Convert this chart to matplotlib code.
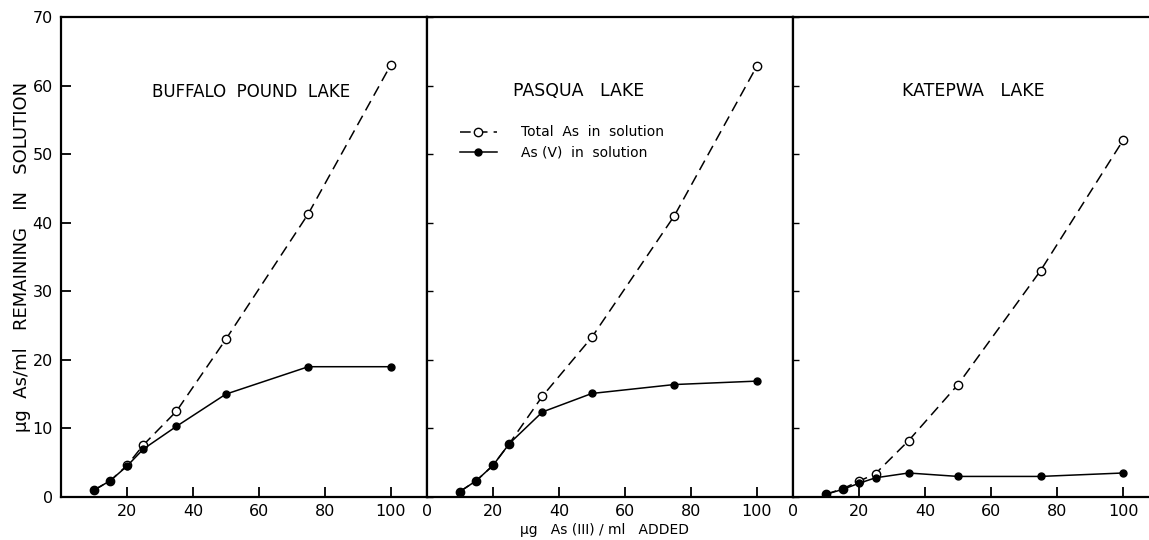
import matplotlib
matplotlib.use("Agg")
import matplotlib.pyplot as plt
from matplotlib.legend_handler import HandlerLine2D

# ---- data ----
added = [10, 15, 20, 25, 35, 50, 75, 100]
lakes = ["BUFFALO  POUND  LAKE", "PASQUA   LAKE", "KATEPWA   LAKE"]
total_buffalo = [1.0, 2.4, 4.6, 7.6, 12.5, 23.0, 41.3, 63.0]
as5_buffalo = [1.0, 2.4, 4.5, 7.0, 10.3, 15.0, 19.0, 19.0]
total_pasqua = [0.8, 2.4, 4.6, 7.8, 14.7, 23.3, 41.0, 62.8]
as5_pasqua = [0.8, 2.4, 4.6, 7.8, 12.4, 15.1, 16.4, 16.9]
total_katepwa = [0.4, 1.2, 2.3, 3.4, 8.2, 16.4, 33.0, 52.0]
as5_katepwa = [0.4, 1.1, 2.0, 2.8, 3.5, 3.0, 3.0, 3.5]
totals = [total_buffalo, total_pasqua, total_katepwa]
as5s = [as5_buffalo, as5_pasqua, as5_katepwa]
xticks = [20, 40, 60, 80, 100]
yticks = [0, 10, 20, 30, 40, 50, 60, 70]

plt.rcParams['font.family'] = ['DejaVu Sans']

W, H = 1149, 540
fig = plt.figure(figsize=(W / 100, H / 100), dpi=100)

bottom = 43 / H
height = 480 / H
panels = [(61, 366, 111), (427, 366, 111), (793, 356, 356 / 3.3)]
title_pos = [(0.52, 12.0), (0.415, 12.5), (0.506, 12.5)]
title_y = [0.843, 0.845, 0.846]


class EndMarkerHandler(HandlerLine2D):
    def get_xdata(self, legend, xdescent, ydescent, width, height, fontsize):
        return [-xdescent, -xdescent + width], [-xdescent + width]


axes = []
for i, (px, pw, xmax) in enumerate(panels):
    ax = fig.add_axes([px / W, bottom, pw / W, height])
    axes.append(ax)
    ax.set_xlim(0, xmax)
    ax.set_ylim(0, 70)
    for s in ax.spines.values():
        s.set_linewidth(1.6)
    if i == 2:
        ax.spines['right'].set_visible(False)

    lt, = ax.plot(added, totals[i], ls=(0, (7, 4)), color='black', lw=1.1,
                  marker='o', ms=6, mfc='white', mec='black', mew=1.0, zorder=3)
    l5, = ax.plot(added, as5s[i], ls='-', color='black', lw=1.1,
                  marker='o', ms=5, mfc='black', mec='black', zorder=4)

    tx, fs = title_pos[i]
    ax.text(tx, title_y[i], lakes[i],
            transform=ax.transAxes, ha='center', va='center', fontsize=fs)

    if i == 0:
        ax.set_xticks(xticks)
        ax.set_xticklabels([str(v) for v in xticks])
        ax.set_yticks(yticks)
        ax.set_yticklabels([str(v) for v in yticks])
        ax.tick_params(axis='y', direction='in', length=7, width=1.3,
                       labelsize=11.5, pad=6)
    else:
        ax.set_xticks([0] + xticks)
        ax.set_xticklabels(['0'] + [str(v) for v in xticks])
        ax.set_yticks(yticks)
        ax.tick_params(axis='y', direction='in', length=4, width=1.0,
                       labelleft=False)
    ax.tick_params(axis='x', direction='in', length=7, width=1.3,
                   labelsize=11.5, pad=5)

    if i == 1:
        leg = ax.legend([lt, l5], ["Total  As  in  solution", "As (V)  in  solution"],
                        handler_map={lt: EndMarkerHandler(), l5: EndMarkerHandler()},
                        loc='upper left', bbox_to_anchor=(0.055, 0.80),
                        frameon=False, fontsize=10, handlelength=2.7,
                        handletextpad=1.7, labelspacing=0.45)

fig.text(22 / W, 0.524, "µg  As/ml   REMAINING   IN   SOLUTION", rotation=90,
         ha='center', va='center', fontsize=13)
fig.text(605 / W, 1 - 530 / H, "µg   As (III) / ml   ADDED", ha='center',
         va='center', fontsize=10)

fig.savefig("out.png", dpi=100)
